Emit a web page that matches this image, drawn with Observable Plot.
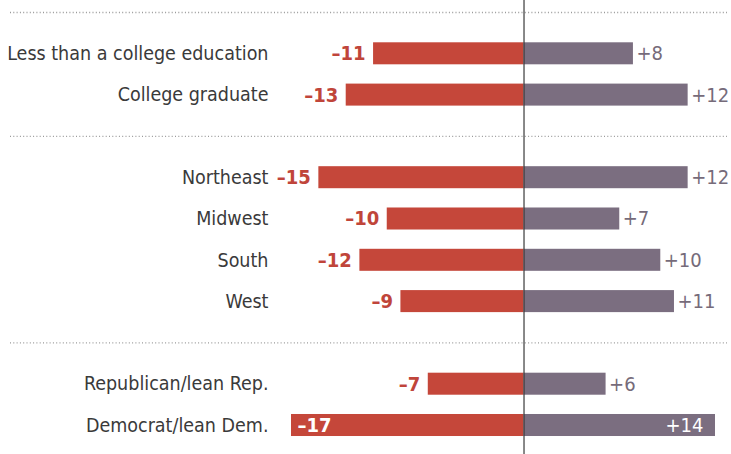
<!DOCTYPE html>
<html>
<head>
<meta charset="utf-8">
<script src="https://cdn.jsdelivr.net/npm/d3@7"></script>
<script src="https://cdn.jsdelivr.net/npm/@observablehq/plot@0.6"></script>
<style>
  html, body { margin: 0; padding: 0; background: #fff; }
  #chart svg { display: block; }
</style>
</head>
<body>
<div id="chart"></div>
<script>
// Groups of categories (top to bottom)
const education = ["Less than a college education", "College graduate"];
const region = ["Northeast", "Midwest", "South", "West"];
const party = ["Republican/lean Rep.", "Democrat/lean Dem."];
const categories = [...education, ...region, ...party];

// Net change values (percentage points)
const decline = [-11, -13, -15, -10, -12, -9, -7, -17];
const increase = [8, 12, 12, 7, 10, 11, 6, 14];

const groups = [education, region, party];
const separators = groups.map((g, i) => `sep${i}`);
const yDomain = groups.flatMap((g, i) => [separators[i], ...g]);

const rows = categories.map((c, i) => ({cat: c, decline: decline[i], increase: increase[i]}));

const RED = "#c5473a";
const GRAY = "#7b6e80";
const RED_TXT = "#c0453a";
const GRAY_TXT = "#766b7a";
const FONT = "'DejaVu Sans Condensed', 'Liberation Sans Narrow', sans-serif";
const LABEL_SIZE = 19.5;
const VALUE_SIZE = 20;

const negOutside = rows.filter(d => d.decline >= -15);
const negInside = rows.filter(d => d.decline < -15);
const posOutside = rows.filter(d => d.increase <= 12);
const posInside = rows.filter(d => d.increase > 12);
const fmtNeg = d => "\u2013" + Math.abs(d.decline);
const fmtPos = d => "+" + d.increase;

const chart = Plot.plot({
  width: 731,
  height: 454,
  marginLeft: 291,
  marginRight: 16,
  marginTop: 0,
  marginBottom: 17,
  style: {background: "#fff", fontFamily: FONT},
  x: {domain: [-17, 14], axis: null},
  y: {domain: yDomain, paddingInner: 0.467, paddingOuter: 0.024, align: 0.5, round: false},
  marks: [
    Plot.ruleY(separators, {y: d => d, stroke: "#9a9a9a", strokeWidth: 1.3, strokeDasharray: "1,2.3", insetLeft: -281, insetRight: -12}),
    Plot.barX(rows, {x1: 0, x2: "decline", y: "cat", fill: RED}),
    Plot.barX(rows, {x1: 0, x2: "increase", y: "cat", fill: GRAY}),
    Plot.ruleX([0], {stroke: "#3a3a3a", strokeWidth: 1.2, insetBottom: -17}),
    Plot.text(negOutside, {x: "decline", y: "cat", text: fmtNeg, textAnchor: "end", dx: -8, fill: RED_TXT, fontWeight: "bold", fontSize: VALUE_SIZE, fontFamily: FONT}),
    Plot.text(posOutside, {x: "increase", y: "cat", text: fmtPos, textAnchor: "start", dx: 3, fill: GRAY_TXT, fontSize: VALUE_SIZE, fontFamily: FONT}),
    Plot.text(negInside, {x: "decline", y: "cat", text: fmtNeg, textAnchor: "start", dx: 6, fill: "#fff", fontWeight: "bold", fontSize: VALUE_SIZE, fontFamily: FONT}),
    Plot.text(posInside, {x: "increase", y: "cat", text: fmtPos, textAnchor: "end", dx: -12, fill: "#fff", fontSize: VALUE_SIZE, fontFamily: FONT}),
    Plot.axisY({ticks: categories, tickSize: 0, tickPadding: 23, fontSize: LABEL_SIZE, fill: "#3a3a3a", fontFamily: FONT, label: null})
  ]
});
document.getElementById("chart").appendChild(chart);
</script>
</body>
</html>
